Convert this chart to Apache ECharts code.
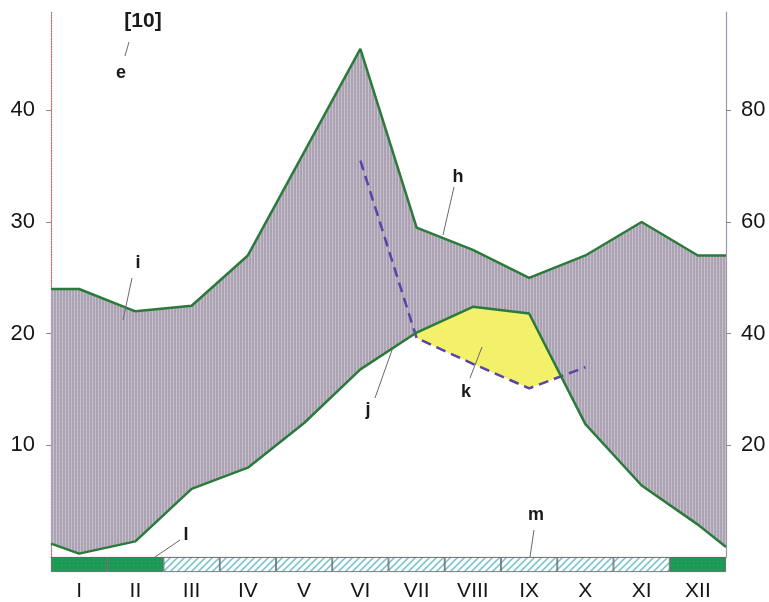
<!DOCTYPE html>
<html>
<head>
<meta charset="utf-8">
<script src="https://cdn.jsdelivr.net/npm/echarts@6/dist/echarts.min.js"></script>
<style>html,body{margin:0;padding:0;background:#fff;}#c{width:769px;height:602px;}</style>
</head>
<body>
<div id="c"></div>
<script>
// ---- data ----
const months = ['I','II','III','IV','V','VI','VII','VIII','IX','X','XI','XII'];
const precipMm = [48, 44, 45, 54, 72.5, 91, 59, 55, 50, 54, 60, 54];
const precipEdge = [48, 54];           // value at left / right edge of the diagram
const tempC = [0.3, 1.4, 6.1, 8.0, 12.0, 16.8, 20.1, 22.4, 21.8, 11.9, 6.4, 2.9];
const tempEdge = [1.2, 0.9];
const dryStartMonth = 'VI';
const dryCurve = [35.5, 19.6, 17.3, 15.1, 17.0];  // VI..X, dashed (1:3 scale)
const frost = [1, 1, 2, 2, 2, 2, 2, 2, 2, 2, 2, 1]; // 1 = frost months, 2 = possible frost
const leftTicks = [10, 20, 30, 40];
const rightTicks = [20, 40, 60, 80];
const leftMax = 48.8;
const precipRatio = 2; // mm per degree

// ---- patterns ----
function pattern(w, h, draw) {
  const c = document.createElement('canvas'); c.width = w; c.height = h;
  draw(c.getContext('2d')); return { image: c, repeat: 'repeat' };
}
const grayPat = pattern(3, 4, ctx => {
  ctx.fillStyle = '#aaa2b3'; ctx.fillRect(0, 0, 3, 4);
  ctx.fillStyle = '#c4bfcb'; ctx.fillRect(2, 0, 1, 4);
  ctx.fillStyle = '#b8aab8'; ctx.fillRect(0, 1, 1, 1);
});
const hatchPat = pattern(7, 7, ctx => {
  ctx.fillStyle = '#fbfdfd'; ctx.fillRect(0, 0, 7, 7);
  ctx.strokeStyle = '#74bfcb'; ctx.lineWidth = 1.5;
  ctx.beginPath();
  ctx.moveTo(0, 7); ctx.lineTo(7, 0);
  ctx.moveTo(-1, 1); ctx.lineTo(1, -1);
  ctx.moveTo(6, 8); ctx.lineTo(8, 6);
  ctx.stroke();
});
const greenPat = pattern(4, 4, ctx => {
  ctx.fillStyle = '#1c9a55'; ctx.fillRect(0, 0, 4, 4);
  ctx.fillStyle = '#32a96a'; ctx.fillRect(1, 1, 1, 1);
});

// ---- derived series points (x = month centre on a 0..12 value axis) ----
const N = months.length;
const pts = (vals, edge) => [[0, edge[0]]].concat(vals.map((v, i) => [i + 0.5, v]), [[N, edge[1]]]);
const precipPts = pts(precipMm, precipEdge);
const tempPts = pts(tempC, tempEdge);
const dryStart = months.indexOf(dryStartMonth);
const dryPts = dryCurve.map((v, k) => [dryStart + k + 0.5, v]);

function aridPolygon() {
  const top = [], bot = [];
  for (let k = 0; k < dryCurve.length; k++) {
    const m = dryStart + k;
    const d = tempC[m] - dryCurve[k];
    if (d >= 0) { top.push([m + 0.5, tempC[m]]); bot.push([m + 0.5, dryCurve[k]]); }
    if (k < dryCurve.length - 1) {
      const d2 = tempC[m + 1] - dryCurve[k + 1];
      if ((d < 0) !== (d2 < 0)) {
        const t = d / (d - d2);
        const p = [m + 0.5 + t, tempC[m] + t * (tempC[m + 1] - tempC[m])];
        top.push(p); bot.push(p);
      }
    }
  }
  return top.concat(bot.reverse());
}

const chart = echarts.init(document.getElementById('c'), null, { renderer: 'canvas' });
const font = '"Liberation Sans", Arial, sans-serif';
const lbl = (x, y, t, size) => ({ type: 'text', x, y, z: 100,
  style: { text: t, fill: '#1a1a1a', font: 'bold ' + (size || 18) + 'px ' + font, align: 'center', verticalAlign: 'middle' } });
const lead = (x1, y1, x2, y2) => ({ type: 'line', z: 100, shape: { x1, y1, x2, y2 }, style: { stroke: '#6a6a6a', lineWidth: 1 } });

chart.setOption({
  animation: false,
  backgroundColor: '#ffffff',
  grid: [
    { left: 51, right: 43, top: 12, bottom: 45 },
    { left: 51, right: 43, top: 557, height: 17 }
  ],
  xAxis: [
    { type: 'value', gridIndex: 0, min: 0, max: N, interval: 1,
      axisLine: { show: true, onZero: false, lineStyle: { color: '#cf7f88', type: 'dotted', width: 1.2 } },
      axisTick: { show: false }, axisLabel: { show: false }, splitLine: { show: false } },
    { type: 'category', gridIndex: 1, data: months, boundaryGap: true,
      axisLine: { show: false }, axisTick: { show: false },
      axisLabel: { fontSize: 21, color: '#161616', fontFamily: font, margin: 9 } }
  ],
  yAxis: [
    { type: 'value', gridIndex: 0, position: 'left', min: 0, max: leftMax, interval: 10,
      axisLine: { show: true, lineStyle: { color: '#c8727c', type: 'dotted', width: 1.3 } },
      axisTick: { show: true, length: 5, customValues: leftTicks, lineStyle: { color: '#888' } },
      axisLabel: { customValues: leftTicks, fontSize: 22, color: '#161616', fontFamily: font, margin: 16 },
      splitLine: { show: false } },
    { type: 'value', gridIndex: 0, position: 'right', min: 0, max: leftMax * precipRatio, interval: 20,
      axisLine: { show: true, lineStyle: { color: '#9d95aa', width: 1.2 } },
      axisTick: { show: true, length: 5, customValues: rightTicks, lineStyle: { color: '#888' } },
      axisLabel: { customValues: rightTicks, fontSize: 22, color: '#161616', fontFamily: font, margin: 15 },
      splitLine: { show: false } },
    { type: 'value', gridIndex: 1, min: 0, max: 1, show: false }
  ],
  series: [
    { type: 'custom', xAxisIndex: 0, yAxisIndex: 0, z: 1, silent: true, data: [0],
      renderItem: (params, api) => {
        const top = precipPts.map(p => api.coord([p[0], p[1] / precipRatio]));
        const bot = tempPts.slice().reverse().map(p => api.coord(p));
        return { type: 'polygon', shape: { points: top.concat(bot) }, style: { fill: grayPat } };
      } },
    { type: 'custom', xAxisIndex: 0, yAxisIndex: 0, z: 2, silent: true, data: [0],
      renderItem: (params, api) => ({ type: 'polygon',
        shape: { points: aridPolygon().map(p => api.coord(p)) }, style: { fill: '#f3f06a' } }) },
    { type: 'line', xAxisIndex: 0, yAxisIndex: 0, z: 3, data: dryPts, symbol: 'none',
      lineStyle: { color: '#5a42a8', width: 2.5, type: [10, 6] } },
    { type: 'line', xAxisIndex: 0, yAxisIndex: 1, z: 4, data: precipPts, symbol: 'none',
      lineStyle: { color: '#2b7a3c', width: 2.5 } },
    { type: 'line', xAxisIndex: 0, yAxisIndex: 0, z: 4, data: tempPts, symbol: 'none',
      lineStyle: { color: '#2b7a3c', width: 2.5 } },
    { type: 'bar', xAxisIndex: 1, yAxisIndex: 2, barCategoryGap: '0%', barWidth: '100%',
      data: frost.map(f => ({ value: 1, itemStyle: { color: f === 1 ? greenPat : hatchPat,
        borderColor: '#5a5a5a', borderWidth: 0.8 } })) }
  ],
  graphic: [
    lbl(143, 21, '[10]', 21), lead(129, 42, 125, 56), lbl(121, 73, 'e'),
    lbl(458, 177, 'h'), lead(454, 187, 443, 235),
    lbl(138, 263, 'i'), lead(132, 278, 123, 320),
    lbl(368, 410, 'j'), lead(392, 350, 375, 398),
    lbl(466, 392, 'k'), lead(482, 347, 470, 378),
    lbl(186, 535, 'l'), lead(180, 540, 155, 557),
    lbl(536, 515, 'm'), lead(534, 530, 530, 557)
  ]
});
</script>
</body>
</html>
